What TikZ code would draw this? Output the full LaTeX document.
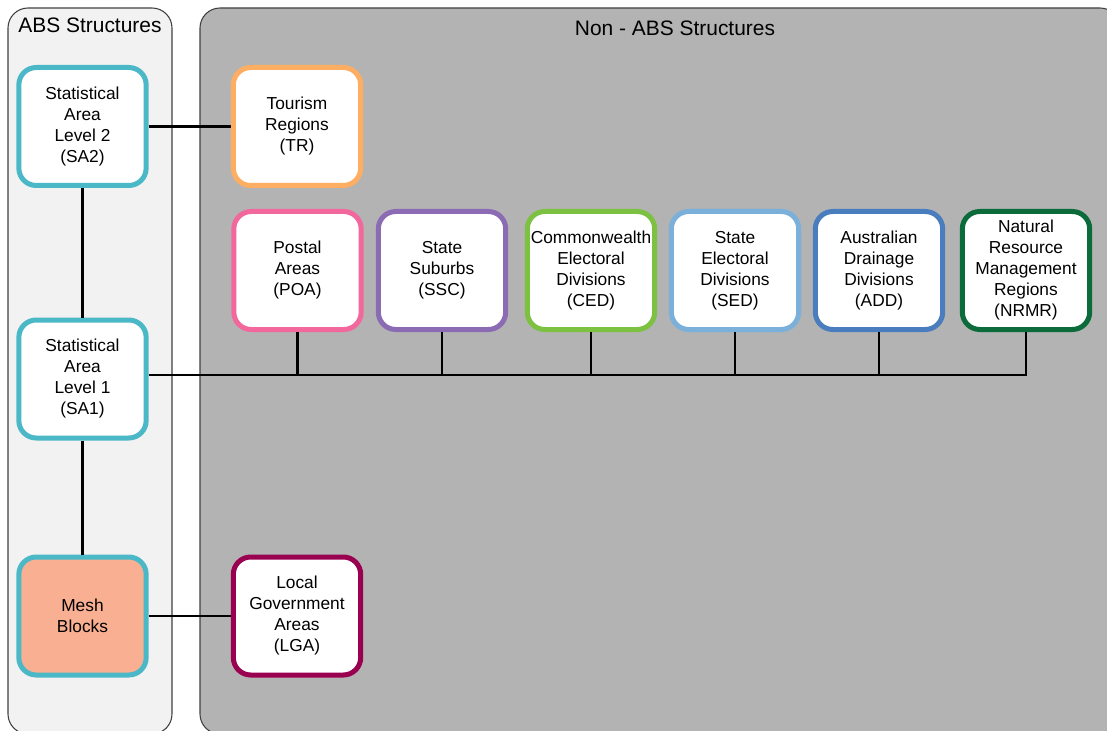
\documentclass[tikz,border=0pt]{standalone}
\usepackage{fontspec}
\setmainfont{Liberation Sans}
\usepackage{tikz}
\usetikzlibrary{positioning}

\definecolor{sacyan}{HTML}{4BB8C8}
\definecolor{trorange}{HTML}{FDAE63}
\definecolor{poapink}{HTML}{F2679C}
\definecolor{sscpurple}{HTML}{8C6BB5}
\definecolor{cedgreen}{HTML}{7DC142}
\definecolor{sedblue}{HTML}{7AB0DA}
\definecolor{addblue}{HTML}{4A7DBE}
\definecolor{nrmrgreen}{HTML}{0B6B3A}
\definecolor{lgamaroon}{HTML}{990050}
\definecolor{meshfill}{HTML}{F9AF91}
\definecolor{abspanel}{HTML}{F2F2F2}
\definecolor{nonabspanel}{HTML}{B3B3B3}
\definecolor{panelline}{HTML}{404040}

\begin{document}
\begin{tikzpicture}[x=0.75pt,y=-0.75pt,line width=1.9pt]

  \tikzstyle{panel}=[draw=panelline,line width=0.8pt,rounded corners=15pt]
  \tikzstyle{areabox}=[draw,shape=rectangle,rounded corners=13pt,line width=3.75pt,fill=white,
                       minimum width=95.5pt,minimum height=88.5pt,align=center,inner sep=2pt,
                       font=\fontsize{13}{15.75}\selectfont]
  \tikzstyle{title}=[font=\fontsize{15.7}{18}\selectfont]

  \useasboundingbox (0,0) rectangle (1107,731);

  % the two groups
  \begin{scope}
    \clip (0,0) rectangle (1107,731);
    \draw[panel,fill=abspanel]    (8,8)   rectangle (172,734);
    \draw[panel,fill=nonabspanel] (200,8) rectangle (1120,734);
  \end{scope}
  \node[title] (abstitle)    at (90,25)  {ABS Structures};
  \node[title] (nonabstitle) at (675,28) {Non - ABS Structures};

  % ABS side
  \node[areabox,draw=sacyan] (sa2)  at (82.5,126.5) {Statistical\\Area\\Level 2\\(SA2)};
  \node[areabox,draw=sacyan] (sa1)  at (82.5,379)   {Statistical\\Area\\Level 1\\(SA1)};
  \node[areabox,draw=sacyan,fill=meshfill] (mesh) at (82.5,616) {Mesh\\Blocks};

  % non-ABS side
  \node[areabox,draw=trorange]  (tr)   at (297,126.5) {Tourism\\Regions\\(TR)};
  \node[areabox,draw=poapink]   (poa)  at (297.5,270.5) {Postal\\Areas\\(POA)};
  \node[areabox,draw=sscpurple] (ssc)  at (442,270.5)   {State\\Suburbs\\(SSC)};
  \node[areabox,draw=cedgreen]  (ced)  at (591,270.5)   {Commonwealth\\Electoral\\Divisions\\(CED)};
  \node[areabox,draw=sedblue]   (sed)  at (735,270.5)   {State\\Electoral\\Divisions\\(SED)};
  \node[areabox,draw=addblue]   (add)  at (879,270.5)   {Australian\\Drainage\\Divisions\\(ADD)};
  \node[areabox,draw=nrmrgreen] (nrmr) at (1026,270.5)  {Natural\\Resource\\Management\\Regions\\(NRMR)};
  \node[areabox,draw=lgamaroon] (lga)  at (297,616)     {Local\\Government\\Areas\\(LGA)};

  % links
  \path (sa2)  edge (tr)
               edge (sa1)
        (sa1)  edge (mesh)
        (mesh) edge (lga);

  \coordinate (bus) at (150,375);
  \draw (sa1.east |- bus) -- (nrmr.south |- bus) -- (nrmr.south);
  \foreach \n in {poa,ssc,ced,sed,add}
    \draw (\n.south) -- (\n.south |- bus);
\end{tikzpicture}
\end{document}
